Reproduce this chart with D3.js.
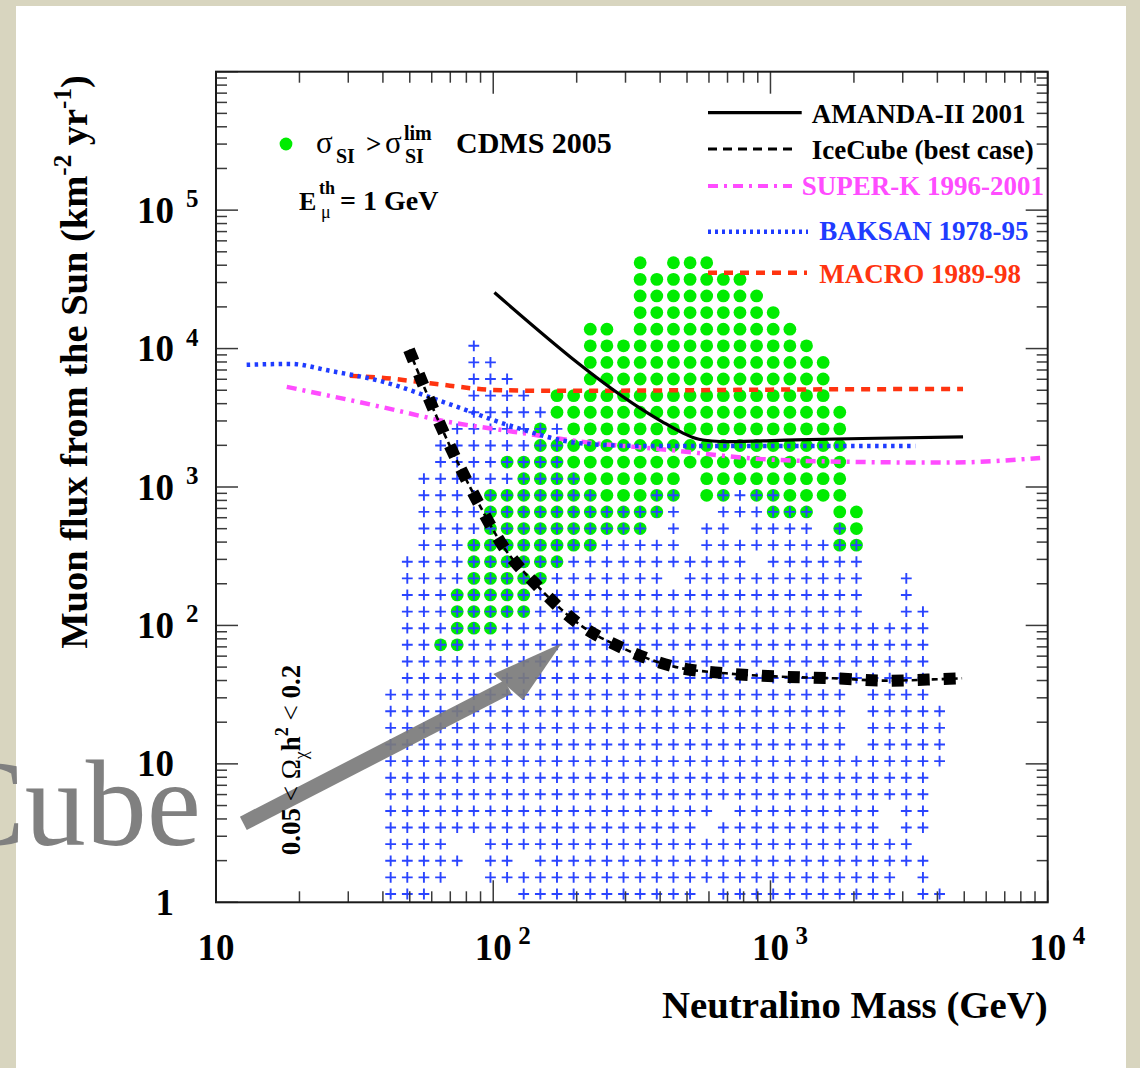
<!DOCTYPE html>
<html>
<head>
<meta charset="utf-8">
<script src="https://cdn.jsdelivr.net/npm/d3@7"></script>
<style>
  body { margin: 0; background: #fff; }
  svg { display: block; }
  text { font-family: "Liberation Serif", "Times New Roman", serif; }
</style>
</head>
<body>
<svg id="chart" width="1140" height="1068"></svg>
<script>
// ---- data ----
// neutralino mass bin centres (GeV), columns 0..33 of the scan grid
var massBins = [42.66, 48.98, 56.23, 64.57, 74.13, 85.11, 97.72, 112.2, 128.8, 147.9,
                169.8, 195.0, 223.9, 257.0, 295.1, 338.8, 389.0, 446.7, 512.9, 588.8,
                676.1, 776.2, 891.3, 1023, 1175, 1349, 1549, 1778, 2042, 2344,
                2692, 3090, 3548, 4074];
// muon flux bin centres (km^-2 yr^-1), rows 0..38
var fluxBins = [1.148, 1.514, 1.995, 2.630, 3.467, 4.571, 6.026, 7.943, 10.47, 13.80,
                18.20, 23.99, 31.62, 41.69, 54.95, 72.44, 95.50, 125.9, 166.0, 218.8,
                288.4, 380.2, 501.2, 660.7, 871.0, 1148, 1514, 1995, 2630, 3467,
                4571, 6026, 7943, 10470, 13800, 18200, 23990, 31620, 41690];
// filled cells per flux row: "+" model point, "o" excluded by CDMS, "#" both
var cellRows = [
  "+0-2 +8-18 +20-30 +32-33",          // 0
  "+0-3 +6-30 +32",
  "+0-4 +6-7 +9-32",
  "+0-3 +6-31",
  "+0-18 +20-29 +31-32",
  "+0-19 +21-29 +31-32",               // 5
  "+0-32",
  "+0-32",
  "+0-33",
  "+0-27 +29-33",
  "+0-27 +29-33",                      // 10
  "+0-27 +29-33",
  "+0-27 +29-32",
  "+1-32",
  "+1-32",
  "+1-2 #3-4 +5-32",                   // 15
  "+1-3 #4-6 +7-32",
  "+1-3 #4-8 +9-28 +31-32",
  "+1-3 #4-8 +9-28 +31",
  "+1-4 #5-9 +10-16 +18-28 +31",
  "+1-4 #5-10 +11-21 +23-28",          // 20
  "+2-4 #5-12 +13-17 +19-26 #27-28",
  "+2-5 #6-15 +17 +19-20 +22-25 #27 o28",
  "+2-5 #6-16 +17 +20-22 #23-25 o27-28",
  "+2-5 #6-12 o13-15 #16-17 o19 #20 +21 #22-23 o24-27",
  "+2-7 #8-11 o12-17 o19-27",          // 25
  "+3-6 #7-10 o11-27",
  "+3-8 #9-10 o11-27",
  "+4-8 #9 +10 o11-27",
  "+5-9 o10-27",
  "+5-8 o10-26",                       // 30
  "+5-7 o12-26",
  "+5-6 o12-26",
  "+5 o12-25",
  "o12-13 o15-24",
  "o15-23",                            // 35
  "o15-22",
  "o15-21",
  "o15 o17-19"
];

// limit curves: [mass GeV, flux km^-2 yr^-1]
var amandaMass = [101, 406, 480, 536, 616, 707, 1230, 2140, 4950];
var amandaFlux = [25400, 2970, 2470, 2250, 2150, 2130, 2190, 2240, 2300];
var icecubeMass = [49.7, 65.2, 87.2, 108.8, 145.4, 203, 299, 449, 691, 1077, 1686, 2612, 4067, 4911];
var icecubeFlux = [9790, 2660, 807, 371, 190, 103, 67.3, 50.4, 45.1, 42.7, 41.5, 39.9, 40.9, 41.5];
var superkMass = [18.0, 39.0, 68.0, 118, 206, 434, 932, 1623, 4275, 9390];
var superkFlux = [5290, 3810, 2970, 2510, 2130, 1850, 1590, 1530, 1500, 1620];
var baksanMass = [12.9, 18.5, 25.8, 39.0, 68.0, 118, 206, 338, 3330];
var baksanFlux = [7625, 7750, 6900, 5840, 4030, 2730, 2070, 1980, 1980];
var macroMass = [30.4, 39.0, 59.2, 99.8, 160, 500, 1000, 4950];
var macroFlux = [6350, 6170, 5620, 5030, 4950, 5000, 5050, 5110];

// grey arrow drawn on the slide, in data units
var arrowTail = [12.55, 3.72], arrowBase = [113.1, 35.9];
var arrowHead = [[100.1, 44.6], [176.6, 74.3], [127.8, 28.9]];

var xDecades = [10, 100, 1000, 10000];
var yDecades = [1, 10, 100, 1000, 10000, 100000];

// ---- drawing ----
var W = 1140, H = 1068;
var svg = d3.select("#chart");

var x = d3.scaleLog().domain([10, 1e4]).range([216, 1047.7]);
var y = d3.scaleLog().domain([1, 1e6]).range([902.3, 71.7]);
var X0 = x.range()[0], X1 = x.range()[1];
var Y0 = y.range()[0], Y1 = y.range()[1];

// slide background
svg.append("rect").attr("width", W).attr("height", H).attr("fill", "#d8d5bf");
svg.append("rect").attr("x", 16).attr("y", 6).attr("width", W - 16 - 14).attr("height", H - 6)
    .attr("fill", "#ffffff");

svg.append("clipPath").attr("id", "plotclip")
  .append("rect").attr("x", X0).attr("y", Y1).attr("width", X1 - X0).attr("height", Y0 - Y1);

function parseRow(spec) {
    var cells = [];
    spec.split(" ").forEach(function(tok) {
        if (!tok) return;
        var kind = tok[0];
        var r = tok.slice(1).split("-").map(Number);
        var a = r[0], b = r.length > 1 ? r[1] : r[0];
        for (var c = a; c <= b; c++) cells.push({c: c, kind: kind});
    });
    return cells;
}

var cells = [];
cellRows.forEach(function(spec, j) {
    parseRow(spec).forEach(function(d) {
        cells.push({mass: massBins[d.c], flux: fluxBins[j], kind: d.kind});
    });
});

var gridG = svg.append("g");
// green: excluded by CDMS
gridG.selectAll("circle.cdms")
    .data(cells.filter(function(d) { return d.kind == "o" || d.kind == "#"; }))
    .enter().append("circle")
    .attr("class", "cdms")
    .attr("cx", function(d) { return x(d.mass); })
    .attr("cy", function(d) { return y(d.flux); })
    .attr("r", 6.4)
    .attr("fill", "#00ec00");
// blue crosses: models with 0.05 < omega h^2 < 0.2
gridG.selectAll("path.model")
    .data(cells.filter(function(d) { return d.kind == "+" || d.kind == "#"; }))
    .enter().append("path")
    .attr("class", "model")
    .attr("d", "M-5.4,0H5.4M0,-5.4V5.4")
    .attr("transform", function(d) { return "translate(" + x(d.mass) + "," + y(d.flux) + ")"; })
    .attr("stroke", "#2a44ff")
    .attr("stroke-width", 1.9)
    .attr("fill", "none");

function zip(a, b) { return a.map(function(v, i) { return [v, b[i]]; }); }
var line = d3.line()
    .x(function(d) { return x(d[0]); })
    .y(function(d) { return y(d[1]); })
    .curve(d3.curveMonotoneX);

var curves = svg.append("g").attr("clip-path", "url(#plotclip)");
curves.append("path").attr("d", line(zip(macroMass, macroFlux)))
    .attr("fill", "none").attr("stroke", "#ff3410").attr("stroke-width", 4.5)
    .attr("stroke-dasharray", "9,7");
curves.append("path").attr("d", line(zip(superkMass, superkFlux)))
    .attr("fill", "none").attr("stroke", "#ff4cff").attr("stroke-width", 4.5)
    .attr("stroke-dasharray", "10,6,3,6");
curves.append("path").attr("d", line(zip(baksanMass, baksanFlux)))
    .attr("fill", "none").attr("stroke", "#1f3cff").attr("stroke-width", 4.5)
    .attr("stroke-dasharray", "3.5,4.5");
curves.append("path").attr("d", line(zip(amandaMass, amandaFlux)))
    .attr("fill", "none").attr("stroke", "#000").attr("stroke-width", 3.2);
// IceCube: thin dashed line + heavy square dashes on top
var iceD = line(zip(icecubeMass, icecubeFlux));
curves.append("path").attr("d", iceD)
    .attr("fill", "none").attr("stroke", "#000").attr("stroke-width", 2.6)
    .attr("stroke-dasharray", "6,4");
curves.append("path").attr("d", iceD)
    .attr("fill", "none").attr("stroke", "#000").attr("stroke-width", 12)
    .attr("stroke-dasharray", "12,14");

// grey arrow
var arrowG = svg.append("g").attr("opacity", 0.92);
arrowG.append("line")
    .attr("x1", x(arrowTail[0])).attr("y1", y(arrowTail[1]))
    .attr("x2", x(arrowBase[0])).attr("y2", y(arrowBase[1]))
    .attr("stroke", "#7b7b7b").attr("stroke-width", 15);
arrowG.append("polygon")
    .attr("points", arrowHead.map(function(p) { return x(p[0]) + "," + y(p[1]); }).join(" "))
    .attr("fill", "#7b7b7b");

// ticks (ROOT style, inside, all four sides)
var tickG = svg.append("g").attr("stroke", "#3a3a3a").attr("stroke-width", 1.5);
function isDecade(v) { var l = Math.log10(v); return Math.abs(l - Math.round(l)) < 1e-6; }
x.ticks().forEach(function(v) {
    var len = isDecade(v) ? 22 : 11;
    var px = x(v);
    tickG.append("line").attr("x1", px).attr("x2", px).attr("y1", Y0).attr("y2", Y0 - len);
    tickG.append("line").attr("x1", px).attr("x2", px).attr("y1", Y1).attr("y2", Y1 + len);
});
y.ticks().forEach(function(v) {
    var len = isDecade(v) ? 22 : 11;
    var py = y(v);
    tickG.append("line").attr("y1", py).attr("y2", py).attr("x1", X0).attr("x2", X0 + len);
    tickG.append("line").attr("y1", py).attr("y2", py).attr("x1", X1).attr("x2", X1 - len);
});
svg.append("rect").attr("x", X0).attr("y", Y1).attr("width", X1 - X0).attr("height", Y0 - Y1)
    .attr("fill", "none").attr("stroke", "#1a1a1a").attr("stroke-width", 2);

// tick labels
var labG = svg.append("g").attr("font-weight", "bold").attr("fill", "#000");
yDecades.forEach(function(v) {
    var py = y(v), p = Math.round(Math.log10(v));
    var base = p == 0 ? "1" : "10";
    labG.append("text").attr("x", 174).attr("y", py + 12.5).attr("text-anchor", "end")
        .attr("font-size", 37).text(base);
    if (p > 1) {
        labG.append("text").attr("x", 186).attr("y", py - 3).attr("font-size", 25).text(p);
    }
});
xDecades.forEach(function(v) {
    var px = x(v), p = Math.round(Math.log10(v));
    labG.append("text").attr("x", px).attr("y", 960).attr("text-anchor", "middle")
        .attr("font-size", 37).text("10");
    if (p > 1) {
        labG.append("text").attr("x", px + 25).attr("y", 944).attr("font-size", 25).text(p);
    }
});

// axis titles
labG.append("text").attr("x", X1).attr("y", 1018).attr("text-anchor", "end")
    .attr("font-size", 38.8).text("Neutralino Mass (GeV)");
var yt = labG.append("text").attr("transform", "translate(87,362) rotate(-90)")
    .attr("text-anchor", "middle").attr("font-size", 38.5);
yt.append("tspan").text("Muon flux from the Sun (km");
yt.append("tspan").attr("font-size", 25).attr("dy", -16).text("-2");
yt.append("tspan").attr("dy", 16).text(" yr");
yt.append("tspan").attr("font-size", 25).attr("dy", -16).text("-1");
yt.append("tspan").attr("dy", 16).text(")");

// CDMS annotation
var annG = svg.append("g").attr("fill", "#000");
annG.append("circle").attr("cx", 286).attr("cy", 144).attr("r", 6.4).attr("fill", "#00ec00");
annG.append("text").attr("x", 316).attr("y", 153).attr("font-size", 31).text("σ");
annG.append("text").attr("x", 336).attr("y", 163).attr("font-size", 20).attr("font-weight", "bold").text("SI");
annG.append("text").attr("x", 366).attr("y", 153).attr("font-size", 27).attr("font-weight", "bold").text(">");
annG.append("text").attr("x", 385).attr("y", 153).attr("font-size", 31).text("σ");
annG.append("text").attr("x", 404).attr("y", 140).attr("font-size", 20).attr("font-weight", "bold").text("lim");
annG.append("text").attr("x", 405).attr("y", 163).attr("font-size", 20).attr("font-weight", "bold").text("SI");
annG.append("text").attr("x", 456).attr("y", 153).attr("font-size", 30).attr("font-weight", "bold").text("CDMS 2005");
annG.append("text").attr("x", 299).attr("y", 210).attr("font-size", 26).attr("font-weight", "bold").text("E");
annG.append("text").attr("x", 319).attr("y", 194).attr("font-size", 18).attr("font-weight", "bold").text("th");
annG.append("text").attr("x", 321).attr("y", 218).attr("font-size", 18).text("μ");
annG.append("text").attr("x", 340).attr("y", 210).attr("font-size", 28).attr("font-weight", "bold").text("= 1 GeV");

// relic density annotation (vertical)
var om = annG.append("text").attr("transform", "translate(300,760) rotate(-90)")
    .attr("text-anchor", "middle").attr("font-size", 27).attr("font-weight", "bold");
om.append("tspan").text("0.05 ");
om.append("tspan").attr("font-weight", "normal").text("< Ω");
om.append("tspan").attr("font-size", 18).attr("font-weight", "normal").attr("dy", 7).text("χ");
om.append("tspan").attr("dy", -7).text("h");
om.append("tspan").attr("font-size", 18).attr("dy", -12).text("2");
om.append("tspan").attr("dy", 12).attr("font-weight", "normal").text(" < ");
om.append("tspan").text("0.2");

// legend
var legend = [
    {name: "AMANDA-II 2001", color: "#000", text: "#000", dash: null, ly: 112.7, tx: 811.7, ty: 123.3, x2: 801.7, w: 3.2},
    {name: "IceCube (best case)", color: "#000", text: "#000", dash: "9,6", ly: 149, tx: 811.7, ty: 158.5, x2: 797, w: 3},
    {name: "SUPER-K 1996-2001", color: "#ff4cff", text: "#ff4cff", dash: "10,6,3,6", ly: 186, tx: 801.7, ty: 194.5, x2: 792, w: 4},
    {name: "BAKSAN 1978-95", color: "#1f3cff", text: "#1f3cff", dash: "3,4", ly: 231.7, tx: 819.3, ty: 239.5, x2: 808, w: 4.5},
    {name: "MACRO 1989-98", color: "#ff3410", text: "#ff3410", dash: "9,7", ly: 272.7, tx: 819.3, ty: 282.7, x2: 807, w: 4.5}
];
var legG = svg.append("g");
legend.forEach(function(d) {
    legG.append("line").attr("x1", 708).attr("x2", d.x2).attr("y1", d.ly).attr("y2", d.ly)
        .attr("stroke", d.color).attr("stroke-width", d.w)
        .attr("stroke-dasharray", d.dash);
    legG.append("text").attr("x", d.tx).attr("y", d.ty).attr("font-size", 27)
        .attr("font-weight", "bold").attr("fill", d.text).text(d.name);
});

// leftover slide title fragment
svg.append("text").attr("x", 201).attr("y", 845).attr("text-anchor", "end")
    .attr("font-size", 122).attr("fill", "#808080").text("Cube");
</script>
</body>
</html>
